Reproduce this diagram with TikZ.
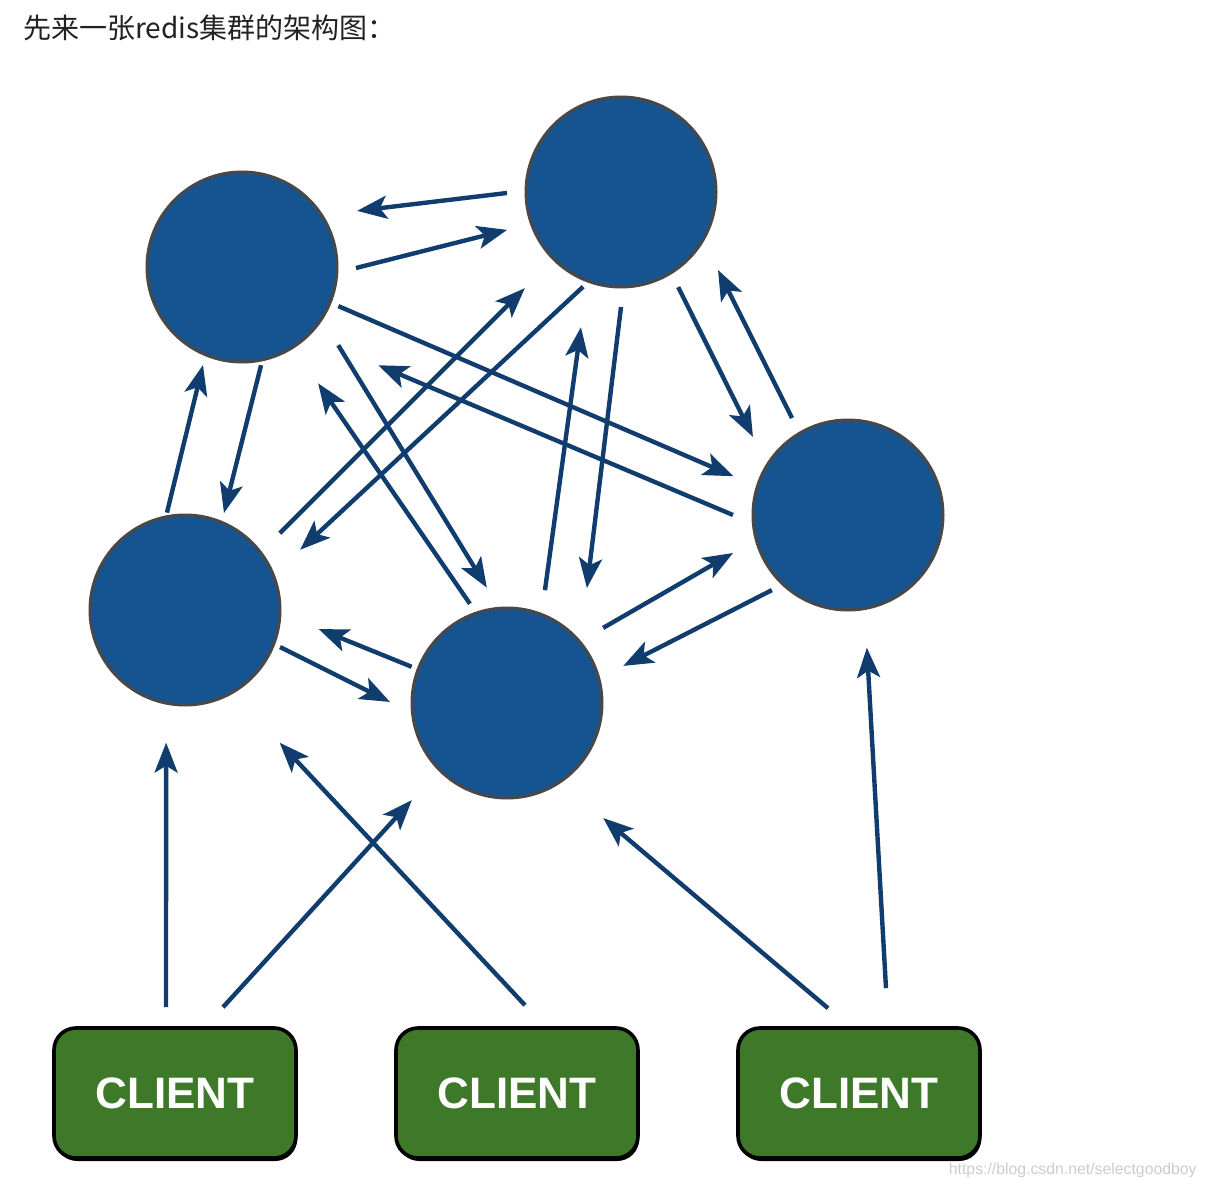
\documentclass[tikz,border=0pt]{standalone}
\usepackage{fontspec}
\setmainfont{Liberation Sans}
\newfontfamily\cjk{Noto Sans CJK SC}
\usetikzlibrary{calc,arrows.meta,shadows}

\definecolor{nodeblue}{RGB}{21,83,145}
\definecolor{nodeedge}{RGB}{72,72,72}
\definecolor{linkblue}{RGB}{16,61,110}
\definecolor{clientgreen}{RGB}{61,121,40}
\definecolor{titlegray}{RGB}{34,34,34}

\begin{document}
\begin{tikzpicture}[x=0.5pt,y=-0.5pt,>={Stealth[length=15pt,width=11.5pt,inset=3.5pt]},
	redis/.style={circle,fill=nodeblue,draw=nodeedge,line width=1.5pt,minimum size=95pt,inner sep=0pt},
	client/.style={rectangle,rounded corners=11pt,fill=clientgreen,draw=black,line width=1.8pt,
		minimum width=121pt,minimum height=65pt,text=white,font=\bfseries\fontsize{22}{22}\selectfont,
		general shadow={fill=black,shadow xshift=0.6pt,shadow yshift=-1.5pt}},
	link/.style={draw=linkblue,line width=2.2pt,->}]
		\useasboundingbox (0,0) rectangle (1206,1188);

		% title line
		\node[anchor=west,inner sep=0pt,text=titlegray,font=\cjk\fontsize{14}{16}\selectfont] (title) at (23,28) {先来一张redis集群的架构图：};

		% the redis nodes
		\node[redis] (A) at (242,267) {};
		\node[redis] (B) at (621,192) {};
		\node[redis] (C) at (848,515) {};
		\node[redis] (D) at (185,610) {};
		\node[redis] (E) at (507,703) {};

		% the clients
		\node[client] (c1) at (175,1093) {CLIENT};
		\node[client] (c2) at (517,1093) {CLIENT};
		\node[client] (c3) at (859,1093) {CLIENT};

		% links between the redis nodes (start angle:radius, end angle:radius)
		\foreach \a/\s/\r/\b/\t/\u in {
			B/179.5/114/A/-26/128,
			A/0.5/114/B/161.6/120,
			A/22.1/104/C/-161.3/121,
			C/180/115/A/35.8/168,
			A/79/100/D/-68.1/104.5,
			D/-100.5/99/A/111.7/105.5,
			D/-39/122/B/135/136,
			B/111.8/102/D/-27.6/130,
			A/39.1/124/E/-99.9/117,
			E/-110.5/106/A/56.8/139,
			E/-71.4/119/B/106.5/141,
			B/90/115/E/-55.2/140,
			B/59/111/C/-140.6/123,
			C/-120/112/B/38.8/124.5,
			E/-38/122/C/161.7/121,
			C/135.4/107/E/-17.7/122,
			E/-159.2/102/D/8.1/135,
		D/21.3/102/E/180.5/117}
		\draw[link] ($(\a)+(\s:\r)$) -- ($(\b)+(\t:\u)$);

		% links from the clients
		\foreach \c/\dx/\dy/\b/\t/\u in {
			c1/-9/-19/D/98.1/134,
			c1/48/-19/E/134.4/136,
			c2/8/-21/D/54.5/163,
			c3/-31/-18/E/50.1/150,
		c3/27/-38/C/81.9/134}
		\draw[link] ($(\c.north)+(\dx,\dy)$) -- ($(\b)+(\t:\u)$);

		% watermark
		\node[anchor=east,inner sep=0pt,text=black!20,font=\fontsize{7.9}{9}\selectfont] (mark) at (1197,1170) {https://blog.csdn.net/selectgoodboy};
	\end{tikzpicture}
\end{document}
